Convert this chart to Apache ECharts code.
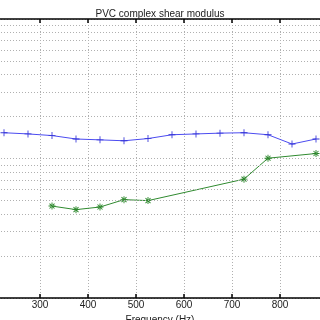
<!DOCTYPE html>
<html><head><meta charset="utf-8">
<script src="https://cdn.jsdelivr.net/npm/echarts@6/dist/echarts.min.js"></script>
<style>html,body{margin:0;padding:0;background:#fff}#c{width:320px;height:320px}</style>
</head><body><div id="c"></div>
<script>
const blueFreq = [225, 275, 325, 375, 425, 475, 525, 575, 625, 675, 725, 775, 825, 875];
const blueVals = [15.3, 15.0, 14.6, 13.8, 13.6, 13.4, 13.9, 14.8, 15.0, 15.2, 15.3, 14.8, 12.7, 13.8];
const greenFreq = [325, 375, 425, 475, 525, 725, 775, 875];
const greenVals = [4.56, 4.30, 4.49, 5.07, 4.99, 7.11, 10.05, 10.86];
const xTicks = [300, 400, 500, 600, 700, 800];
const yMinorGrid = [2, 3, 4, 5, 6, 7, 8, 9, 20, 30, 40, 50, 60, 70, 80, 90];
const yMin = 1, yMax = 100;

const plusSym = 'path://M-1,-0.12L1,-0.12L1,0.12L-1,0.12Z M-0.12,-1L0.12,-1L0.12,1L-0.12,1Z';
const starSym = 'path://M-1,-0.13L1,-0.13L1,0.13L-1,0.13Z M-0.13,-1L0.13,-1L0.13,1L-0.13,1Z M-0.8,-0.62L-0.62,-0.8L0.8,0.62L0.62,0.8Z M0.8,-0.62L0.62,-0.8L-0.8,0.62L-0.62,0.8Z';

const gridStyle = {color: '#b0b0b0', type: [1, 2], width: 1};
const boxStyle = {color: '#000', type: 'solid', width: 1.5};
const tickF = 1.07;
const boxLines = [{yAxis: yMin, lineStyle: boxStyle}, {yAxis: yMax, lineStyle: boxStyle}];
const tickLines = [];
xTicks.forEach(t => {
  tickLines.push([{coord: [t, yMin], lineStyle: boxStyle}, {coord: [t, yMin * tickF]}]);
  tickLines.push([{coord: [t, yMax], lineStyle: boxStyle}, {coord: [t, yMax / tickF]}]);
});

const chart = echarts.init(document.getElementById('c'), null, {renderer: 'canvas'});
chart.setOption({
  animation: false,
  title: {text: 'PVC complex shear modulus', left: 'center', top: 4,
    textStyle: {fontFamily: 'Liberation Sans', fontSize: 10, fontWeight: 'normal', color: '#222'}},
  grid: {left: -8, right: -8, top: 19, bottom: 22, outerBoundsMode: 'none'},
  xAxis: {
    type: 'value', position: 'bottom', min: 200, max: 900, interval: 100,
    name: 'Frequency (Hz)', nameLocation: 'middle', nameGap: 6,
    nameTextStyle: {fontFamily: 'Liberation Sans', fontSize: 10, color: '#222', verticalAlign: 'top'},
    axisLine: {show: false}, axisTick: {show: false},
    axisLabel: {fontFamily: 'Liberation Sans', fontSize: 10, color: '#222', margin: 2},
    splitLine: {show: true, lineStyle: gridStyle}
  },
  yAxis: {
    type: 'log', logBase: 10, min: yMin, max: yMax,
    axisLine: {show: false}, axisTick: {show: false}, axisLabel: {show: false},
    splitLine: {show: true, lineStyle: gridStyle}
  },
  series: [{
    type: 'line', data: blueFreq.map((f, i) => [f, blueVals[i]]), clip: false,
    symbol: plusSym, symbolSize: 7, showAllSymbol: true,
    lineStyle: {color: '#4b4bf0', width: 1}, itemStyle: {color: '#3434d8'},
    markLine: {silent: true, symbol: 'none', label: {show: false},
      lineStyle: gridStyle,
      data: yMinorGrid.map(v => ({yAxis: v})).concat(boxLines, tickLines)}
  }, {
    type: 'line', data: greenFreq.map((f, i) => [f, greenVals[i]]),
    symbol: starSym, symbolSize: 7,
    lineStyle: {color: '#2f8a2f', width: 1}, itemStyle: {color: '#2a862a'}
  }]
});
</script></body></html>
